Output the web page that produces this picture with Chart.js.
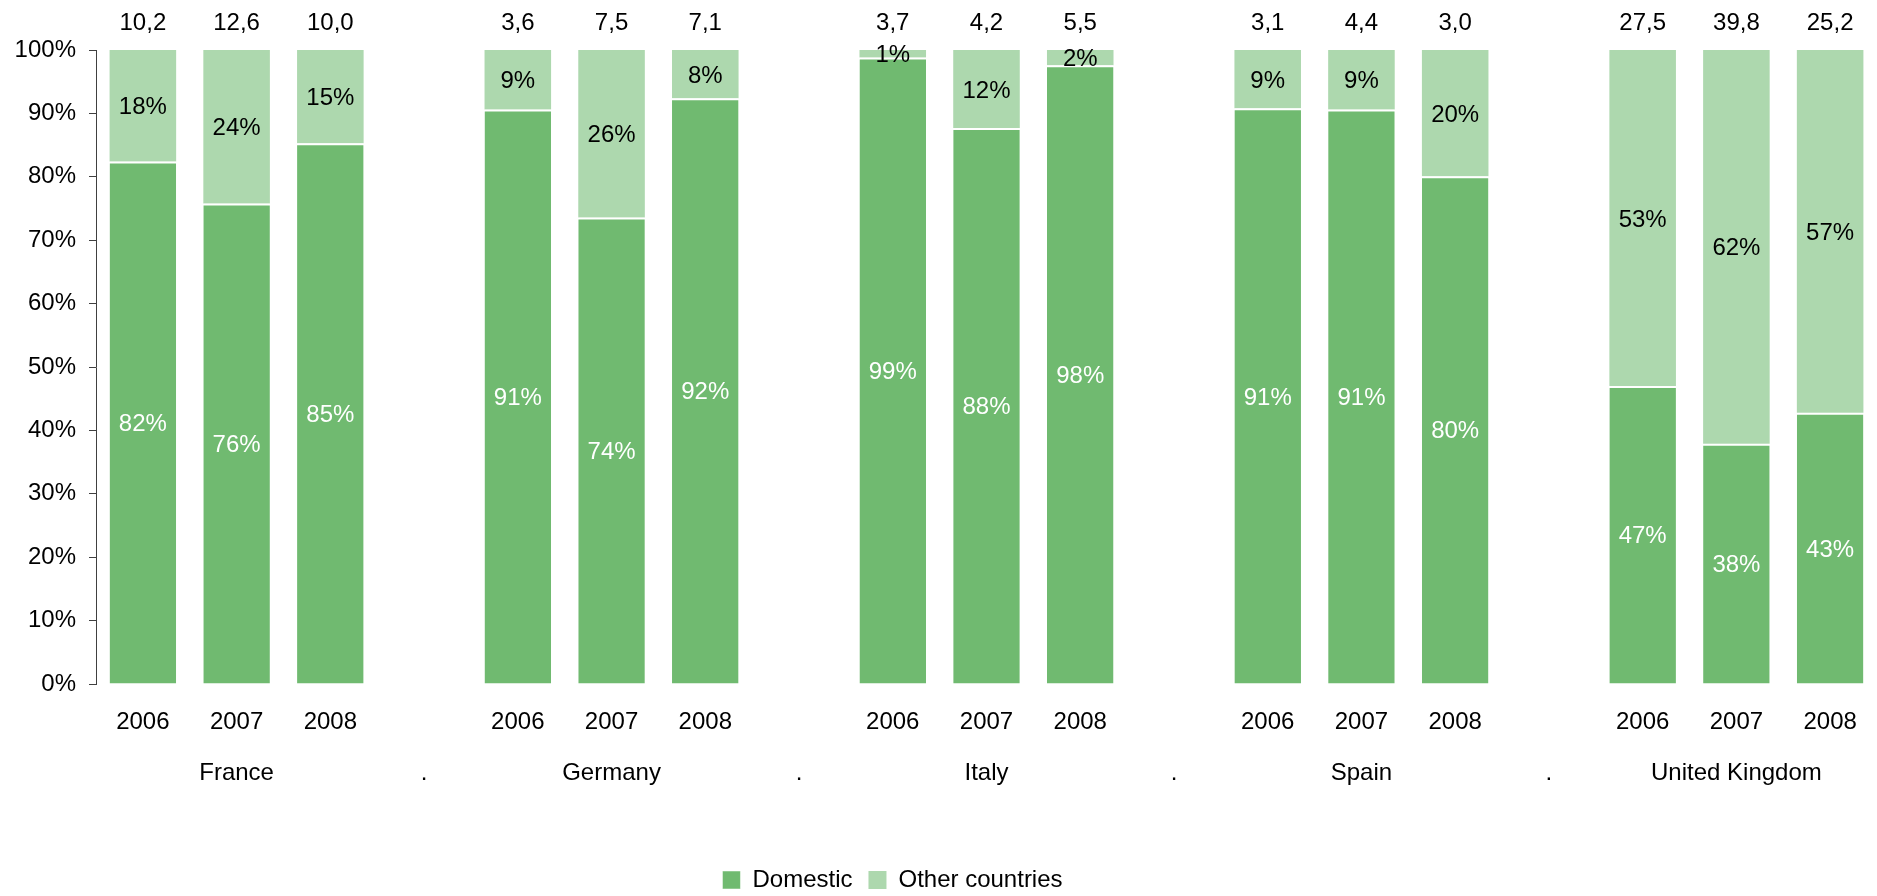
<!DOCTYPE html>
<html>
<head>
<meta charset="utf-8">
<script src="https://cdn.jsdelivr.net/npm/chart.js@4"></script>
<style>
  html, body { margin: 0; padding: 0; background: #fff; }
  #wrap { width: 1877px; height: 896px; }
</style>
</head>
<body>
<div id="wrap"><canvas id="chart" width="1877" height="896"></canvas></div>
<script>
// datos
const countries = ['France', 'Germany', 'Italy', 'Spain', 'United Kingdom'];
const years = ['2006', '2007', '2008'];
const domestic = [
    [82.4, 75.8, 85.3],
    [90.6, 73.6, 92.4],
    [98.8, 87.7, 97.6],
    [90.8, 90.6, 80.1],
    [47.0, 37.9, 42.8]
];
const otherCountries = [
    [17.6, 24.2, 14.7],
    [9.4, 26.4, 7.6],
    [1.2, 12.3, 2.4],
    [9.2, 9.4, 19.9],
    [53.0, 62.1, 57.2]
];
const totals = [
    [10.2, 12.6, 10.0],
    [3.6, 7.5, 7.1],
    [3.7, 4.2, 5.5],
    [3.1, 4.4, 3.0],
    [27.5, 39.8, 25.2]
];
const yTicks = [0, 10, 20, 30, 40, 50, 60, 70, 80, 90, 100];

const FONT = 'Liberation Sans, Arial, sans-serif';
const FS = 24;
const GREEN = '#70BA70';
const LIGHT = '#ADD8AE';

// armar categorias con un hueco entre paises
const labels = [];
const domData = [];
const othData = [];
const totData = [];
countries.forEach((c, i) => {
    if (i > 0) {
        labels.push(['', '.']);
        domData.push(null);
        othData.push(null);
        totData.push(null);
    }
    years.forEach((y, j) => {
        labels.push([y, j === 1 ? c : '']);
        domData.push(domestic[i][j]);
        othData.push(otherCountries[i][j]);
        totData.push(totals[i][j]);
    });
});

const labelPlugin = {
    id: 'barLabels',
    afterLayout(chart) {
        // la leyenda del original esta un poco a la izquierda del centro
        if (chart.legend) chart.legend.right -= 92;
    },
    afterDatasetsDraw(chart) {
        const ctx = chart.ctx;
        ctx.save();
        ctx.font = FS + 'px ' + FONT;
        ctx.textAlign = 'center';
        ctx.textBaseline = 'middle';
        chart.data.datasets.forEach((ds, di) => {
            const meta = chart.getDatasetMeta(di);
            meta.data.forEach((bar, k) => {
                const v = ds.data[k];
                if (v == null) return;
                ctx.fillStyle = di === 0 ? '#ffffff' : '#000000';
                ctx.fillText(Math.round(v) + '%', bar.x, (bar.y + bar.base) / 2 + 2);
            });
        });
        // totales arriba
        const top = chart.getDatasetMeta(1);
        ctx.fillStyle = '#000000';
        top.data.forEach((bar, k) => {
            const t = totData[k];
            if (t == null) return;
            ctx.fillText(t.toFixed(1).replace('.', ','), bar.x, chart.chartArea.top - 27);
        });
        ctx.restore();
    }
};

const ctx = document.getElementById('chart').getContext('2d');
new Chart(ctx, {
    type: 'bar',
    data: {
        labels: labels,
        datasets: [
            {
                label: 'Domestic',
                data: domData,
                backgroundColor: GREEN,
                borderColor: '#ffffff',
                borderWidth: { top: 2, left: 0, right: 0, bottom: 0 },
                borderSkipped: false
            },
            {
                label: 'Other countries',
                data: othData,
                backgroundColor: LIGHT,
                borderWidth: 0
            }
        ]
    },
    options: {
        responsive: false,
        animation: false,
        categoryPercentage: 1,
        barPercentage: 0.71,
        layout: { padding: { top: 50, right: 0, left: 0, bottom: -6 } },
        scales: {
            x: {
                stacked: true,
                grid: { display: false, drawTicks: false },
                border: { display: false },
                ticks: {
                    color: '#000',
                    font: { family: FONT, size: FS, lineHeight: 2.125 },
                    padding: 13,
                    maxRotation: 0,
                    autoSkip: false
                },
                afterFit(scale) { scale.height = 168; }
            },
            y: {
                stacked: true,
                min: 0,
                max: 100,
                afterBuildTicks(scale) { scale.ticks = yTicks.map(v => ({ value: v })); },
                grid: { display: true, drawOnChartArea: false, tickLength: 7, color: '#404040' },
                border: { display: true, color: '#404040', width: 1 },
                ticks: {
                    color: '#000',
                    font: { family: FONT, size: FS },
                    padding: 13,
                    callback: v => v + '%'
                },
                afterFit(scale) { scale.width = 96; }
            }
        },
        plugins: {
            legend: {
                position: 'bottom',
                labels: {
                    color: '#000',
                    font: { family: FONT, size: FS },
                    boxWidth: 18,
                    boxHeight: 18,
                    padding: 16
                }
            },
            tooltip: { enabled: false }
        }
    },
    plugins: [labelPlugin]
});
</script>
</body>
</html>
